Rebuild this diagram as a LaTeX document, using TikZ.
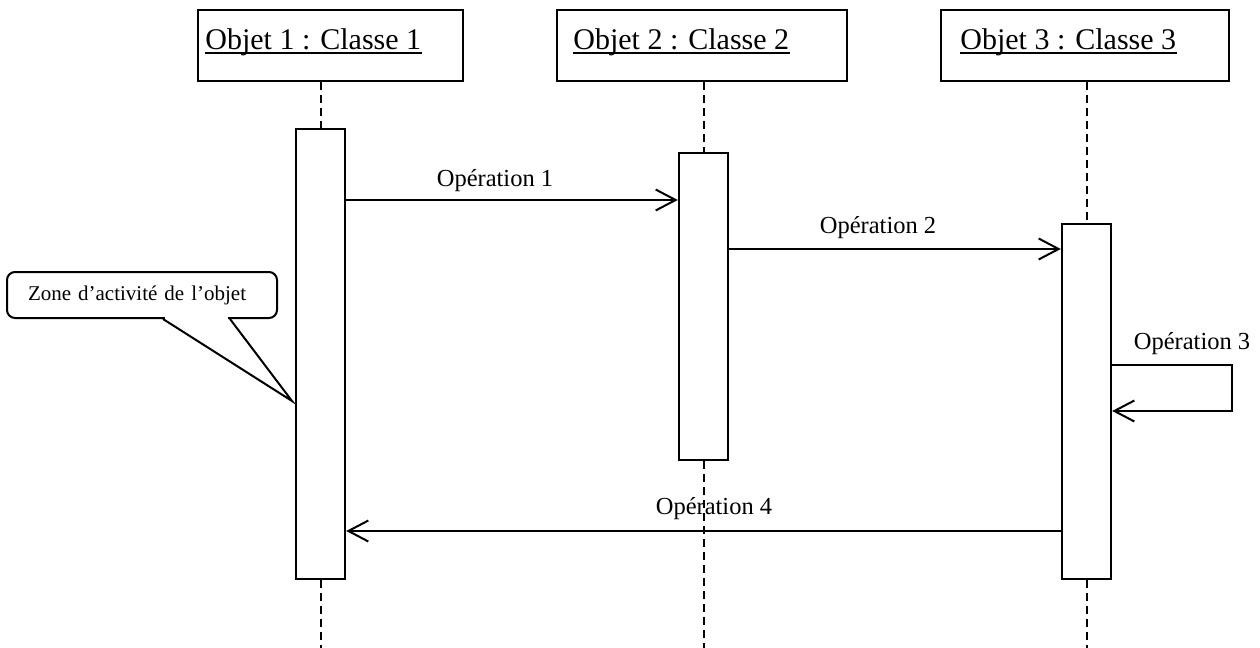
\documentclass[tikz,border=0pt]{standalone}
\usepackage{fontspec}
\setmainfont{Liberation Serif}
\usetikzlibrary{arrows.meta,calc}

\begin{document}
\begin{tikzpicture}[x=0.5pt,y=-0.5pt,
  objbox/.style={draw,line width=1.2pt,minimum height=35.5pt,inner sep=0pt},
  objtext/.style={anchor=base west,inner sep=0pt,font=\fontsize{15}{18}\selectfont},
  uline/.style={line width=0.6pt},
  actbox/.style={draw,fill=white,line width=1.2pt,minimum width=24.5pt,inner sep=0pt},
  lifeline/.style={line width=1pt,dash pattern=on 4pt off 2.5pt},
  msg/.style={line width=1pt,-{Straight Barb[length=10pt,width=10.5pt,line width=1pt]}},
  msglabel/.style={inner sep=0pt,font=\fontsize{12.25}{14}\selectfont},
  notebox/.style={draw,line width=1pt,rounded corners=4pt,minimum width=135pt,
    minimum height=23pt,inner xsep=10.5pt,inner ysep=0pt,text width=114pt,align=left,
    font=\fontsize{10.5}{12}\selectfont}]

  \useasboundingbox (0,0) rectangle (1260,648);

  % object headers
  \node[objbox,minimum width=132.5pt] (h1) at (330.5,45.5) {};
  \node[objbox,minimum width=145pt]   (h2) at (702,45.5) {};
  \node[objbox,minimum width=144pt]   (h3) at (1085,45.5) {};
  \node[objtext] (t1) at (205,49) {Objet 1 : Classe 1};
  \node[objtext] (t2) at (573,49) {Objet 2 : Classe 2};
  \node[objtext] (t3) at (960,49) {Objet 3 : Classe 3};
  \foreach \t in {t1,t2,t3}
    \draw[uline] ([yshift=-2pt]\t.base west) -- ([yshift=-2pt]\t.base east);

  % lifelines, bottom end points
  \coordinate (e1) at (320.5,648);
  \coordinate (e2) at (703.5,648);
  \coordinate (e3) at (1086.5,648);

  % activation bars
  \node[actbox,minimum height=225pt]   (a1) at (320.5,354) {};
  \node[actbox,minimum height=153.5pt] (a2) at (703.5,306.5) {};
  \node[actbox,minimum height=177.5pt] (a3) at (1086.5,401.5) {};

  \draw[lifeline] (a1.north |- h1.south) -- (a1.north);
  \draw[lifeline] (a2.north |- h2.south) -- (a2.north);
  \draw[lifeline] (a3.north |- h3.south) -- (a3.north);
  \draw[lifeline] (a1.south) -- (e1);
  \draw[lifeline] (a2.south) -- (e2);
  \draw[lifeline] (a3.south) -- (e3);

  % messages
  \draw[msg] (a1.east |- 0,200) -- (a2.west |- 0,200);
  \node[msglabel] (l1) at (495,181) {Opération 1};

  \draw[msg] (a2.east |- 0,249) -- (a3.west |- 0,249);
  \node[msglabel] (l2) at (878,228) {Opération 2};

  \coordinate (loop) at (1232,388);
  \draw[msg] (a3.east |- 0,365) -| (loop) |- (a3.east |- 0,411);
  \node[msglabel] (l3) at (1192,344) {Opération 3};

  \draw[msg] (a3.west |- 0,531) -- (a1.east |- 0,531);
  \node[msglabel] (l4) at (714,509) {Opération 4};

  % note callout
  \node[notebox] (note) at (142,295) {Zone d’activité de l’objet};
  \coordinate (tip) at (292,401);
  \draw[white,line width=1.6pt] (note.south -| 165,0) -- (note.south -| 228,0);
  \draw[line width=1pt,line join=miter] (note.south -| 163,0) -- (tip) -- (note.south -| 230,0);
\end{tikzpicture}
\end{document}
